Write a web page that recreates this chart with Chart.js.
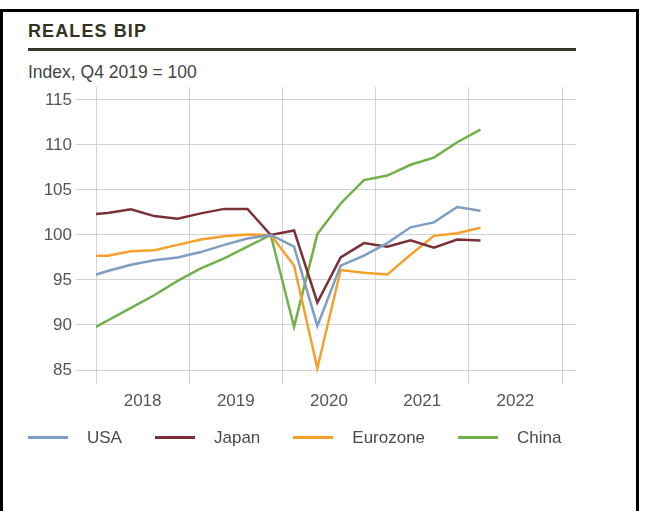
<!DOCTYPE html>
<html>
<head>
<meta charset="utf-8">
<script src="https://cdn.jsdelivr.net/npm/chart.js@4"></script>
<style>
  body { margin: 0; background: #fff; font-family: "Liberation Sans", Arial, sans-serif; }
  #wrap { position: relative; width: 645px; height: 511px; overflow: hidden; }
  #frame { position: absolute; left: 0; top: 9px; width: 633px; height: 600px; border: 3px solid #000; border-bottom: none; }
  #title { position: absolute; left: 28px; top: 22px; font-size: 18px; line-height: 1; font-weight: bold; letter-spacing: 1.1px; color: #35331f; }
  #rule { position: absolute; left: 28px; top: 48px; width: 548px; height: 3px; background: #3b3828; }
  #subtitle { position: absolute; left: 28px; top: 64px; font-size: 17.5px; line-height: 1; color: #444; }
  #legend { position: absolute; left: 28px; top: 429px; display: flex; align-items: center; font-size: 17px; line-height: 17px; color: #4a4a4a; }
  #legend .item { display: flex; align-items: center; margin-right: 33px; }
  #legend .swatch { width: 40px; height: 3px; margin-right: 19px; }
  canvas { position: absolute; left: 0; top: 0; }
</style>
</head>
<body>
<div id="wrap">
  <div id="frame"></div>
  <div id="title">REALES BIP</div>
  <div id="rule"></div>
  <div id="subtitle">Index, Q4 2019 = 100</div>
  <canvas id="myChart" width="645" height="511"></canvas>
  <div id="legend"></div>
</div>
<script>
// quarters (the first one sits left of the axis and is clipped)
const quarters = ["2017-Q4",
  "2018-Q1", "2018-Q2", "2018-Q3", "2018-Q4",
  "2019-Q1", "2019-Q2", "2019-Q3", "2019-Q4",
  "2020-Q1", "2020-Q2", "2020-Q3", "2020-Q4",
  "2021-Q1", "2021-Q2", "2021-Q3", "2021-Q4",
  "2022-Q1"];

const usa      = [95.2, 96.0, 96.7, 97.2, 97.5, 98.1, 98.9, 99.6, 100, 98.7, 89.9, 96.6, 97.7, 99.1, 100.85, 101.4, 103.1, 102.7];
const japan    = [102.2, 102.45, 102.85, 102.1, 101.8, 102.4, 102.9, 102.9, 100, 100.5, 92.5, 97.5, 99.1, 98.7, 99.4, 98.6, 99.5, 99.4];
const eurozone = [97.7, 97.7, 98.2, 98.3, 98.9, 99.5, 99.85, 100.05, 100, 96.6, 85.2, 96.1, 95.8, 95.6, 97.8, 99.9, 100.2, 100.8];
const china    = [89.1, 90.5, 91.9, 93.3, 94.9, 96.3, 97.4, 98.7, 100, 89.8, 100.1, 103.5, 106.1, 106.6, 107.8, 108.6, 110.3, 111.7];

const seriesNames = ["USA", "Japan", "Eurozone", "China"];
const seriesColors = ["#7f9dc2", "#7a3136", "#f5a02b", "#71b04b"];
const yearTicks = [2018, 2019, 2020, 2021, 2022];

// each quarter is placed in the middle of its slot inside the year
function quarterPos(q) {
    const parts = q.split("-Q");
    return Number(parts[0]) + (Number(parts[1]) - 0.5) / 4;
}

function toPoints(values) {
    return values.map((v, i) => ({ x: quarterPos(quarters[i]), y: v }));
}

const allValues = [usa, japan, eurozone, china];

const datasets = seriesNames.map((name, i) => ({
    label: name,
    data: toPoints(allValues[i]),
    borderColor: seriesColors[i],
    backgroundColor: seriesColors[i],
    borderWidth: 2.5,
    pointRadius: 0,
    tension: 0,
    clip: { left: 0, top: 5, right: 5, bottom: 5 }
}));

// legend
const legend = document.getElementById("legend");
seriesNames.forEach((name, i) => {
    const item = document.createElement("div");
    item.className = "item";
    const sw = document.createElement("div");
    sw.className = "swatch";
    sw.style.background = seriesColors[i];
    const txt = document.createElement("span");
    txt.textContent = name;
    item.append(sw, txt);
    legend.append(item);
});

const gridColor = "#d3d3d3";
const tickFont = { family: "'Liberation Sans', Arial, sans-serif", size: 17 };

var ctx = document.getElementById("myChart");
var myChart = new Chart(ctx, {
    type: "line",
    data: { datasets: datasets },
    options: {
        responsive: false,
        animation: false,
        layout: { padding: { top: 87, right: 69, bottom: 101, left: 0 } },
        plugins: {
            legend: { display: false },
            tooltip: { enabled: false }
        },
        scales: {
            x: {
                type: "linear",
                min: 2018,
                max: 2023.15,
                afterFit: (scale) => { scale.height = 40; },
                afterBuildTicks: (scale) => {
                    scale.ticks = yearTicks.concat([2023]).map(v => ({ value: v }));
                },
                ticks: {
                    stepSize: 1,
                    includeBounds: false,
                    autoSkip: false,
                    maxRotation: 0,
                    labelOffset: 46.6,
                    padding: 7,
                    color: "#555",
                    font: tickFont,
                    callback: (v) => yearTicks.includes(v) ? String(v) : ""
                },
                grid: { color: gridColor, tickLength: 14, drawTicks: true },
                border: { display: false }
            },
            y: {
                min: 85,
                max: 116.44,
                afterFit: (scale) => { scale.width = 96; },
                ticks: {
                    stepSize: 5,
                    includeBounds: false,
                    padding: 4,
                    color: "#555",
                    font: tickFont,
                    callback: (v) => String(v)
                },
                grid: { color: gridColor, tickLength: 20, drawTicks: true },
                border: { display: false }
            }
        }
    }
});
</script>
</body>
</html>
